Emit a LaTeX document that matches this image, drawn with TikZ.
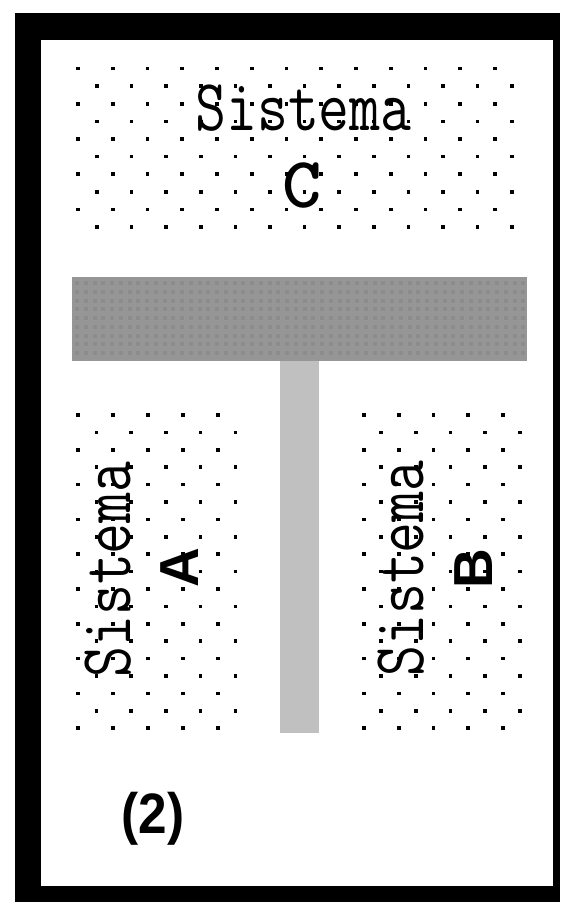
\documentclass[tikz,border=0pt]{standalone}
\usepackage{fontspec}
\newfontfamily\sansfont{Liberation Sans}
\definecolor{bargray}{HTML}{969696}
\definecolor{bardot}{HTML}{8C8C8C}
\definecolor{stemgray}{HTML}{C0C0C0}
\tikzset{
  dotsq/.style={fill=black},
  sislabel/.style={inner sep=0pt, anchor=base, font=\ttfamily\fontsize{60}{66}\selectfont},
  letterlabel/.style={inner sep=0pt, anchor=base, font=\sansfont\bfseries\fontsize{55}{60}\selectfont},
}
\begin{document}
\begin{tikzpicture}[x=1pt,y=-1pt]
\useasboundingbox (0,0) rectangle (560,902);
% frame
\fill[black] (15,13) rectangle (560,902);
\fill[white] (41,40) rectangle (553,886);
% top dotted region (Sistema C)
\foreach \r in {0,...,9}{
  \pgfmathsetmacro{\yy}{68.5+17.6*\r}
  \ifodd\r
    \foreach \k in {0,...,12}{\fill[dotsq] ({97+34.6*\k-1.8},{\yy-1.8}) rectangle ++(3.6,3.6);}
  \else
    \foreach \k in {0,...,12}{\fill[dotsq] ({78+34.75*\k-1.8},{\yy-1.8}) rectangle ++(3.6,3.6);}
  \fi
}
% side dotted regions (Sistema A, Sistema B)
\foreach \r in {0,...,18}{
  \pgfmathsetmacro{\yy}{415+17.4*\r}
  \ifodd\r
    \foreach \k in {0,...,4}{
      \fill[dotsq] ({96.5+34.7*\k-1.8},{\yy-1.8}) rectangle ++(3.6,3.6);
      \fill[dotsq] ({381+34.75*\k-1.8},{\yy-1.8}) rectangle ++(3.6,3.6);}
  \else
    \foreach \k in {0,...,4}{
      \fill[dotsq] ({78+35*\k-1.8},{\yy-1.8}) rectangle ++(3.6,3.6);
      \fill[dotsq] ({364+34.7*\k-1.8},{\yy-1.8}) rectangle ++(3.6,3.6);}
  \fi
}
% horizontal gray bar
\fill[bargray] (72,277) rectangle (527,361);
\foreach \i in {0,...,51}{
  \foreach \j in {0,...,8}{
    \fill[bardot] ({75+8.75*\i},{281+8.75*\j}) rectangle ++(4,4);
  }
}
% vertical stem
\fill[stemgray] (280,361) rectangle (319,733);
% labels
\node[sislabel] (sisC) at (303.5,130) {\scalebox{1}[1.22]{Sistema}};
\node[sislabel] (C) at (302,207) {\scalebox{1.25}[1.2]{\textbf{C}}};
\node[sislabel, rotate=90] (sisA) at (130,569.5) {\scalebox{1}[1.22]{Sistema}};
\node[letterlabel, rotate=90] (A) at (198,568) {A};
\node[sislabel, rotate=90] (sisB) at (423,568.5) {\scalebox{1}[1.22]{Sistema}};
\node[letterlabel, rotate=90] (B) at (492,569) {B};
\node[letterlabel, font=\sansfont\bfseries\fontsize{57}{60}\selectfont] (two) at (153,833) {\scalebox{0.9}[1]{(2)}};
\end{tikzpicture}
\end{document}
